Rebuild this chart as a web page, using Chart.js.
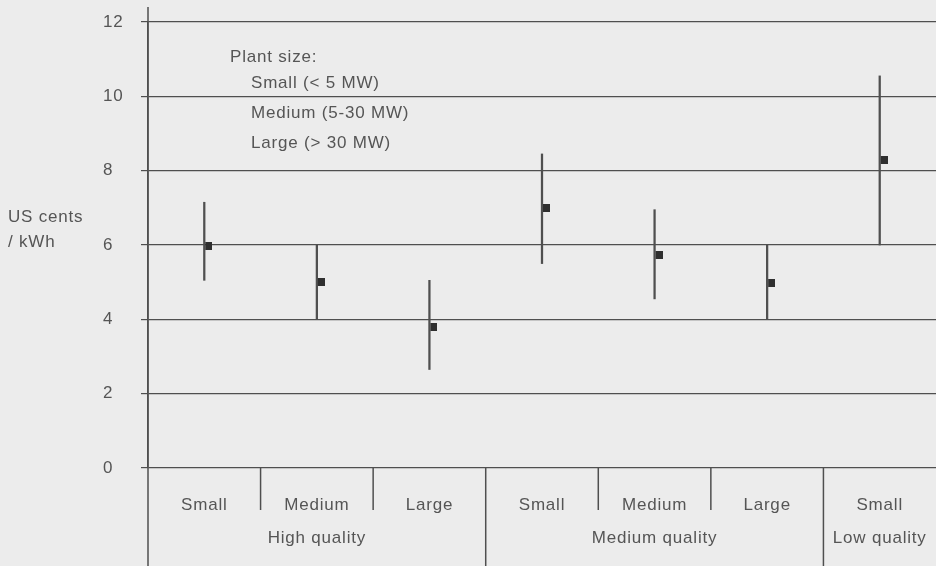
<!DOCTYPE html>
<html>
<head>
<meta charset="utf-8">
<script src="https://cdn.jsdelivr.net/npm/chart.js@4.4.1/dist/chart.umd.min.js"></script>
<style>
  html, body { margin: 0; padding: 0; background: #ececec; }
  canvas { display: block; }
</style>
</head>
<body>
<canvas id="chart" width="936" height="566"></canvas>
<script>
// Plant size categories along the bottom, grouped by resource quality
const sizeLabels = ['Small', 'Medium', 'Large', 'Small', 'Medium', 'Large', 'Small'];
const qualityGroups = ['High quality', 'Medium quality', 'Low quality'];
const groupSizes = [3, 3, 1];

// Generating cost in US cents / kWh: typical value and range
const typicalCost = [5.97, 5.0, 3.8, 7.0, 5.72, 4.97, 8.28];
const lowCost = [5.05, 4.0, 2.65, 5.5, 4.55, 4.0, 6.0];
const highCost = [7.15, 6.0, 5.05, 8.45, 6.95, 6.0, 10.55];

const yTickValues = [0, 2, 4, 6, 8, 10, 12];
const unitLines = ['US cents', '/ kWh'];
const legendTitle = 'Plant size:';
const legendItems = ['Small (< 5 MW)', 'Medium (5-30 MW)', 'Large (> 30 MW)'];

const INK = '#4f4f4f';
const TEXT = '#555555';
const FONT = '"Liberation Sans", Arial, Helvetica, sans-serif';

// Small square marker sitting just to the right of its range line
const marker = document.createElement('canvas');
marker.width = 16;
marker.height = 8;
(function () {
  const m = marker.getContext('2d');
  m.fillStyle = '#2f2f2f';
  m.fillRect(9, 0, 7, 8);
})();

const decorations = {
  id: 'decorations',
  beforeDraw(chart) {
    const ctx = chart.ctx;
    ctx.save();
    ctx.fillStyle = '#ececec';
    ctx.fillRect(0, 0, chart.width, chart.height);
    ctx.restore();
    ctx.letterSpacing = '0.8px';
  },
  afterDraw(chart) {
    const ctx = chart.ctx;
    const x = chart.scales.x;
    const area = chart.chartArea;
    ctx.save();
    ctx.strokeStyle = INK;
    ctx.lineWidth = 1.5;

    // vertical axis runs past the plot at top and down through the label table
    ctx.beginPath();
    ctx.moveTo(area.left, 7);
    ctx.lineTo(area.left, chart.height);
    ctx.stroke();

    // dividers between the size columns and between quality groups
    let idx = 0;
    const groupEnds = [];
    groupSizes.forEach(n => { idx += n; groupEnds.push(idx); });
    for (let i = 1; i < sizeLabels.length; i++) {
      const bx = (x.getPixelForValue(i - 1) + x.getPixelForValue(i)) / 2;
      const isGroupEdge = groupEnds.includes(i);
      ctx.beginPath();
      ctx.moveTo(bx, area.bottom);
      ctx.lineTo(bx, isGroupEdge ? chart.height : area.bottom + 42);
      ctx.stroke();
    }

    ctx.fillStyle = TEXT;
    ctx.font = '17px ' + FONT;
    ctx.letterSpacing = '0.8px';

    // quality group names
    ctx.textAlign = 'center';
    ctx.textBaseline = 'middle';
    let start = 0;
    qualityGroups.forEach((name, g) => {
      const end = start + groupSizes[g] - 1;
      const cx = (x.getPixelForValue(start) + x.getPixelForValue(end)) / 2;
      ctx.fillText(name, cx, 538);
      start = end + 1;
    });

    // unit caption beside the value axis
    ctx.textAlign = 'left';
    ctx.fillText(unitLines[0], 8, 217);
    ctx.fillText(unitLines[1], 8, 242);

    // plant size key
    ctx.textBaseline = 'alphabetic';
    ctx.fillText(legendTitle, 230, 62);
    legendItems.forEach((t, i) => ctx.fillText(t, 251, 88 + i * 30));
    ctx.restore();
  }
};

new Chart(document.getElementById('chart'), {
  data: {
    labels: sizeLabels,
    datasets: [
      {
        type: 'line',
        data: typicalCost,
        showLine: false,
        pointStyle: marker,
        pointRadius: 4,
        pointHoverRadius: 4,
        order: 1
      },
      {
        type: 'bar',
        data: lowCost.map((lo, i) => [lo, highCost[i]]),
        backgroundColor: INK,
        barThickness: 1.6,
        grouped: false,
        order: 2
      }
    ]
  },
  options: {
    responsive: false,
    devicePixelRatio: 1,
    animation: false,
    events: [],
    layout: { autoPadding: false, padding: { top: 22, left: 103, right: 0, bottom: 0 } },
    plugins: { legend: { display: false }, tooltip: { enabled: false } },
    scales: {
      x: {
        type: 'category',
        offset: true,
        grid: { display: false },
        border: { display: false },
        ticks: {
          color: TEXT,
          font: { family: FONT, size: 17 },
          padding: 19,
          maxRotation: 0,
          autoSkip: false
        },
        afterFit(scale) {
          scale.height = 98;
          scale.paddingLeft = 0;
          scale.paddingRight = 0;
        }
      },
      y: {
        type: 'linear',
        min: 0,
        max: 12,
        afterBuildTicks(scale) { scale.ticks = yTickValues.map(v => ({ value: v })); },
        grid: { color: INK, lineWidth: 1.2, tickLength: 7 },
        border: { display: true, color: INK, width: 1.5 },
        ticks: {
          color: TEXT,
          font: { family: FONT, size: 17 },
          crossAlign: 'far'
        },
        afterFit(scale) { scale.width = 45; }
      }
    }
  },
  plugins: [decorations]
});
</script>
</body>
</html>
